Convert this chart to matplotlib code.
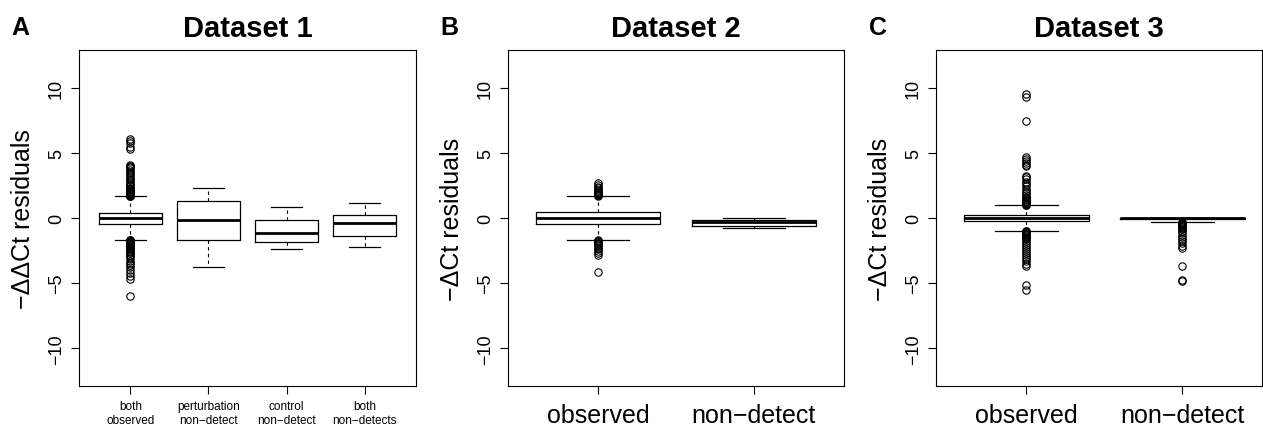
import matplotlib
matplotlib.use("Agg")
import matplotlib.pyplot as plt

plt.rcParams['font.family'] = ['Liberation Sans', 'DejaVu Sans']

# ---- Dataset 1 (panel A) ----
labels_a = ["both\nobserved", "perturbation\nnon\u2212detect", "control\nnon\u2212detect", "both\nnon\u2212detects"]
med_a = [0.02, -0.18, -1.18, -0.41]
q1_a = [-0.44, -1.67, -1.85, -1.39]
q3_a = [0.41, 1.28, -0.15, 0.23]
lo_a = [-1.69, -3.77, -2.36, -2.26]
hi_a = [1.66, 2.31, 0.85, 1.12]
fliers_a1 = [1.68, 1.70, 1.72, 1.74, 1.76, 1.79, 1.82, 1.85, 1.88, 1.92, 1.96, 2.00, 2.05, 2.10,
             2.17, 2.25, 2.33, 2.42, 2.52, 2.63, 2.75, 2.88, 3.00, 3.14, 3.28, 3.42, 3.56, 3.70,
             3.82, 3.93, 4.03, 4.10, 5.28, 5.45, 5.75, 5.95, 6.08,
             -1.70, -1.72, -1.74, -1.77, -1.80, -1.83, -1.87, -1.91, -1.95, -2.00, -2.05, -2.11,
             -2.17, -2.24, -2.32, -2.41, -2.50, -2.60, -2.70, -2.82, -2.95, -3.10, -3.28, -3.45,
             -3.62, -3.80, -4.00, -4.22, -4.45, -4.72, -5.98]
fliers_a = [fliers_a1, [], [], []]

# ---- Dataset 2 (panel B) ----
labels_b = ["observed", "non\u2212detect"]
med_b = [0.0, -0.33]
q1_b = [-0.46, -0.59]
q3_b = [0.43, -0.13]
lo_b = [-1.67, -0.77]
hi_b = [1.66, -0.03]
fliers_b1 = [1.69, 1.73, 1.78, 1.83, 1.88, 1.95, 2.02, 2.10, 2.18, 2.27, 2.38, 2.50, 2.69,
             -1.69, -1.73, -1.78, -1.83, -1.90, -1.98, -2.07, -2.17, -2.28, -2.40, -2.55,
             -2.70, -2.82, -4.15]
fliers_b = [fliers_b1, []]

# ---- Dataset 3 (panel C) ----
labels_c = ["observed", "non\u2212detect"]
med_c = [0.0, 0.0]
q1_c = [-0.26, -0.08]
q3_c = [0.23, 0.0]
lo_c = [-0.97, -0.31]
hi_c = [0.97, 0.0]
fliers_c1 = [0.99, 1.02, 1.06, 1.10, 1.14, 1.19, 1.24, 1.30, 1.36, 1.44, 1.54, 1.65, 1.78, 1.92,
             2.08, 2.25, 2.42, 2.60, 2.80, 3.00, 3.12, 3.22, 3.97, 4.10, 4.25, 4.40, 4.55, 4.70,
             7.43, 9.28, 9.55,
             -0.99, -1.02, -1.06, -1.10, -1.14, -1.19, -1.24, -1.30, -1.36, -1.44, -1.54, -1.65,
             -1.77, -1.90, -2.05, -2.20, -2.36, -2.52, -2.68, -2.85, -3.00, -3.15, -3.30, -3.50,
             -3.72, -5.13, -5.50]
fliers_c2 = [-0.32, -0.36, -0.41, -0.46, -0.52, -0.58, -0.64, -0.71, -0.78, -0.86, -0.96, -1.08,
             -1.30, -1.45, -1.62, -1.78, -1.95, -2.12, -2.30, -3.67, -4.74, -4.87]
fliers_c = [fliers_c1, fliers_c2]


def make_stats(labels, med, q1, q3, lo, hi, fliers):
    return [dict(label=l, med=m, q1=a, q3=b, whislo=w0, whishi=w1, fliers=f)
            for l, m, a, b, w0, w1, f in zip(labels, med, q1, q3, lo, hi, fliers)]


W, H = 1263, 427
fig = plt.figure(figsize=(W / 100, H / 100), dpi=100)

panels = [
    ("A", "Dataset 1", "\u2212\u0394\u0394Ct residuals",
     make_stats(labels_a, med_a, q1_a, q3_a, lo_a, hi_a, fliers_a), (79, 337), (0.34, 4.66), 8.5, 20),
    ("B", "Dataset 2", "\u2212\u0394Ct residuals",
     make_stats(labels_b, med_b, q1_b, q3_b, lo_b, hi_b, fliers_b), (508, 336), (0.42, 2.58), 18, 449),
    ("C", "Dataset 3", "\u2212\u0394Ct residuals",
     make_stats(labels_c, med_c, q1_c, q3_c, lo_c, hi_c, fliers_c), (936, 326), (0.42, 2.51), 18, 878),
]

bottom = 1 - 387 / H
height = 336 / H

for letter, title, ylab, stats, (left, width), xlim, xfs, lx in panels:
    ax = fig.add_axes([left / W, bottom, width / W, height])
    pos = list(range(1, len(stats) + 1))
    ax.bxp(stats, positions=pos, widths=0.8, capwidths=0.4, showfliers=True,
           boxprops=dict(color='black', linewidth=0.9),
           medianprops=dict(color='black', linewidth=2.0),
           whiskerprops=dict(color='black', linewidth=0.8, linestyle=(0, (3, 3))),
           capprops=dict(color='black', linewidth=0.9),
           flierprops=dict(marker='o', markerfacecolor='none', markeredgecolor='black',
                           markersize=5.3, markeredgewidth=0.8))
    ax.set_xlim(*xlim)
    ax.set_ylim(-12.9, 12.9)
    ax.set_yticks([-10, -5, 0, 5, 10])
    ax.set_yticklabels(["\u221210", "\u22125", "0", "5", "10"])
    ax.tick_params(axis='y', labelrotation=90, labelsize=13, length=6, width=0.8, pad=4)
    for t in ax.get_yticklabels():
        t.set_va('center')
    ax.tick_params(axis='x', labelsize=xfs, length=6, width=0.8, pad=4 if xfs < 10 else 6)
    if xfs < 10:
        for t in ax.get_xticklabels():
            t.set_linespacing(1.2)
    for s in ax.spines.values():
        s.set_linewidth(0.8)
    ax.set_ylabel(ylab, fontsize=18, va='center')
    ax.yaxis.set_label_coords(-56 / width, 0.5)
    ax.set_title(title, fontsize=21, fontweight='bold', pad=10)
    fig.text(lx / W, 1 - 28 / H, letter, ha='center', va='center', fontsize=18, fontweight='bold')

fig.savefig("out.png", dpi=100)
